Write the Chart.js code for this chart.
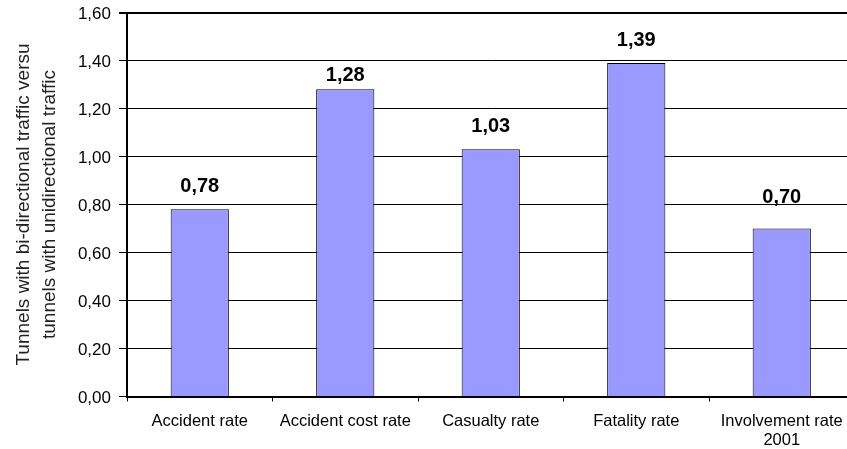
<!DOCTYPE html>
<html>
<head>
<meta charset="utf-8">
<script src="https://cdn.jsdelivr.net/npm/chart.js@4"></script>
<style>
  html, body { margin: 0; padding: 0; background: #fff; overflow: hidden; }
  #wrap { width: 847px; height: 449px; overflow: hidden; }
</style>
</head>
<body>
<div id="wrap"><canvas id="myChart" width="870" height="449"></canvas></div>
<script>
const categorias = ['Accident rate', 'Accident cost rate', 'Casualty rate', 'Fatality rate', ['Involvement rate', '2001']];
const valores = [0.78, 1.28, 1.03, 1.39, 0.70];
const ejeY = { min: 0, max: 1.6, paso: 0.2 };
const tituloY = ['Tunnels with bi-directional traffic versu', 'tunnels with unidirectional traffic'];

const FUENTE = '"Liberation Sans", Arial, Helvetica, sans-serif';
const coma = v => v.toFixed(2).replace('.', ',');

// etiquetas de valor sobre las barras (separacion como en el original)
const separacion = [17, 8, 17, 17, 26];
const etiquetas = {
  id: 'etiquetas',
  afterDatasetsDraw(chart) {
    const ctx = chart.ctx;
    const meta = chart.getDatasetMeta(0);
    ctx.save();
    ctx.font = 'bold 20px ' + FUENTE;
    ctx.fillStyle = '#000';
    ctx.textAlign = 'center';
    ctx.textBaseline = 'alphabetic';
    meta.data.forEach((bar, i) => {
      ctx.fillText(coma(valores[i]), bar.x, bar.y - separacion[i]);
    });
    ctx.restore();
  }
};

const ctx = document.getElementById('myChart').getContext('2d');
const myChart = new Chart(ctx, {
  type: 'bar',
  data: {
    labels: categorias,
    datasets: [{
      data: valores,
      backgroundColor: '#9999FF',
      borderColor: '#000',
      borderWidth: 1,
      categoryPercentage: 0.4,
      barPercentage: 1
    }]
  },
  options: {
    responsive: false,
    devicePixelRatio: 1,
    animation: false,
    layout: { padding: { left: 0, top: 12.5, right: 15.5, bottom: 0 } },
    plugins: {
      legend: { display: false },
      tooltip: { enabled: false }
    },
    scales: {
      x: {
        offset: true,
        grid: {
          display: true,
          offset: true,
          drawOnChartArea: false,
          drawTicks: true,
          tickLength: 5,
          color: '#000',
          lineWidth: 1
        },
        border: { display: true, color: '#000', width: 2 },
        ticks: {
          color: '#000',
          font: { family: FUENTE, size: 16.5, lineHeight: 1.15 },
          padding: 10,
          maxRotation: 0,
          autoSkip: false
        },
        afterFit(scale) { scale.height = 52.5; }
      },
      y: {
        min: ejeY.min,
        max: ejeY.max,
        grid: {
          color: '#000',
          lineWidth: c => (c.tick && c.tick.value === ejeY.max ? 2 : 1),
          drawTicks: true,
          tickLength: 8
        },
        border: { display: true, color: '#000', width: 2 },
        ticks: {
          stepSize: ejeY.paso,
          color: '#000',
          padding: 8,
          labelOffset: 2,
          font: { family: FUENTE, size: 17, lineHeight: 0.5 },
          callback: v => coma(v)
        },
        title: {
          display: true,
          text: tituloY,
          color: '#222',
          font: { family: FUENTE, size: 19, lineHeight: 1.4 },
          padding: { top: 10, bottom: 0 }
        },
        afterFit(scale) { scale.width = 127; }
      }
    }
  },
  plugins: [etiquetas]
});
</script>
</body>
</html>
